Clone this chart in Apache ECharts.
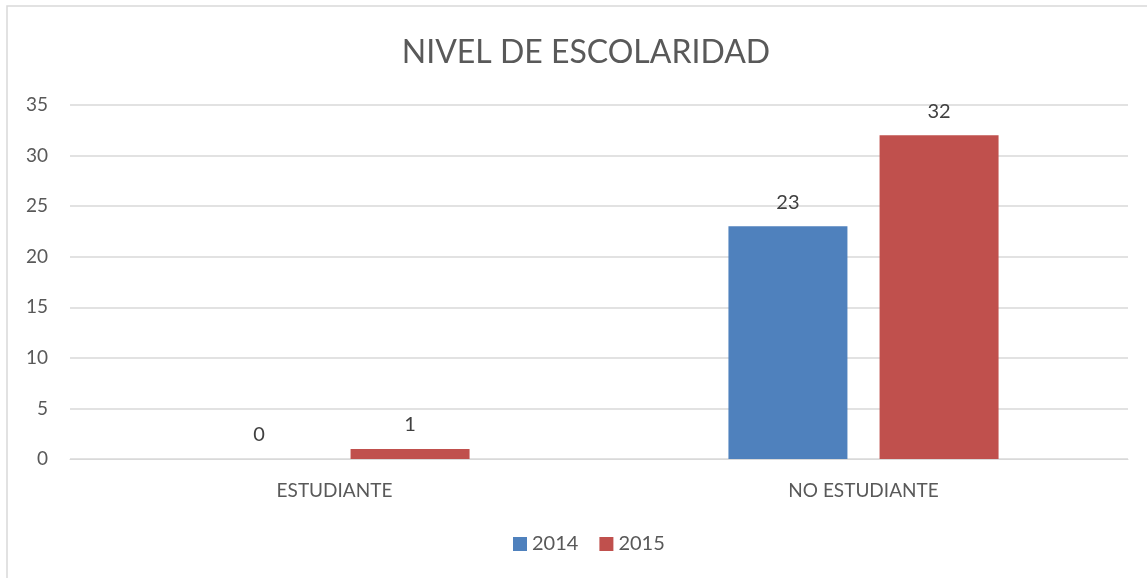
<!DOCTYPE html>
<html>
  <head>
    <meta charset="utf-8" />
    <title>Nivel de escolaridad</title>
    <script src="https://cdn.jsdelivr.net/npm/echarts@6/dist/echarts.min.js"></script>
    <style>
      html, body { margin: 0; padding: 0; background: #fff; }
    </style>
  </head>
  <body>
    <div id="chart" style="width: 1147px; height: 578px"></div>

    <script type="text/javascript">
// Data
const categories = ['ESTUDIANTE', 'NO ESTUDIANTE'];
const series_names = ['2014', '2015'];
const values_2014 = [0, 23];
const values_2015 = [1, 32];

const font = 'Lato, "Open Sans", sans-serif';

const chart = echarts.init(document.getElementById('chart'));

chart.setOption({
  animation: false,
  color: ['#4F81BD', '#C0504D'],
  title: {
    text: 'NIVEL DE ESCOLARIDAD',
    left: 581,
    textAlign: 'center',
    top: 32,
    textStyle: { color: '#595959', fontSize: 32, fontWeight: 'normal', fontFamily: font }
  },
  graphic: [{
    type: 'rect',
    shape: { x: 7, y: 6, width: 1160, height: 600 },
    style: { fill: 'none', stroke: '#d9d9d9', lineWidth: 1.5 },
    silent: true
  }],
  legend: {
    data: series_names,
    bottom: 19,
    left: 508,
    itemWidth: 14,
    itemHeight: 14,
    itemGap: 21,
    icon: 'rect',
    textStyle: { color: '#595959', fontSize: 20, fontFamily: font }
  },
  grid: {
    left: 70,
    right: 19,
    top: 105,
    bottom: 119
  },
  xAxis: {
    type: 'category',
    data: categories,
    axisLine: { lineStyle: { color: '#d9d9d9', width: 1 } },
    axisTick: { show: false },
    axisLabel: { color: '#595959', fontSize: 19, fontFamily: font, margin: 22 }
  },
  yAxis: {
    type: 'value',
    min: 0,
    max: 35,
    interval: 5,
    axisLine: { show: false },
    axisTick: { show: false },
    splitLine: { lineStyle: { color: '#d9d9d9', width: 1.5 } },
    axisLabel: { color: '#595959', fontSize: 19, fontFamily: font, margin: 22 }
  },
  series: [
    {
      name: series_names[0],
      type: 'bar',
      data: values_2014,
      barWidth: 119,
      barGap: '27%',
      label: { show: true, position: 'top', distance: 14, color: '#404040', fontSize: 20, fontFamily: font }
    },
    {
      name: series_names[1],
      type: 'bar',
      data: values_2015,
      barWidth: 119,
      barGap: '27%',
      label: { show: true, position: 'top', distance: 14, color: '#404040', fontSize: 20, fontFamily: font }
    }
  ]
});
    </script>
  </body>
</html>
